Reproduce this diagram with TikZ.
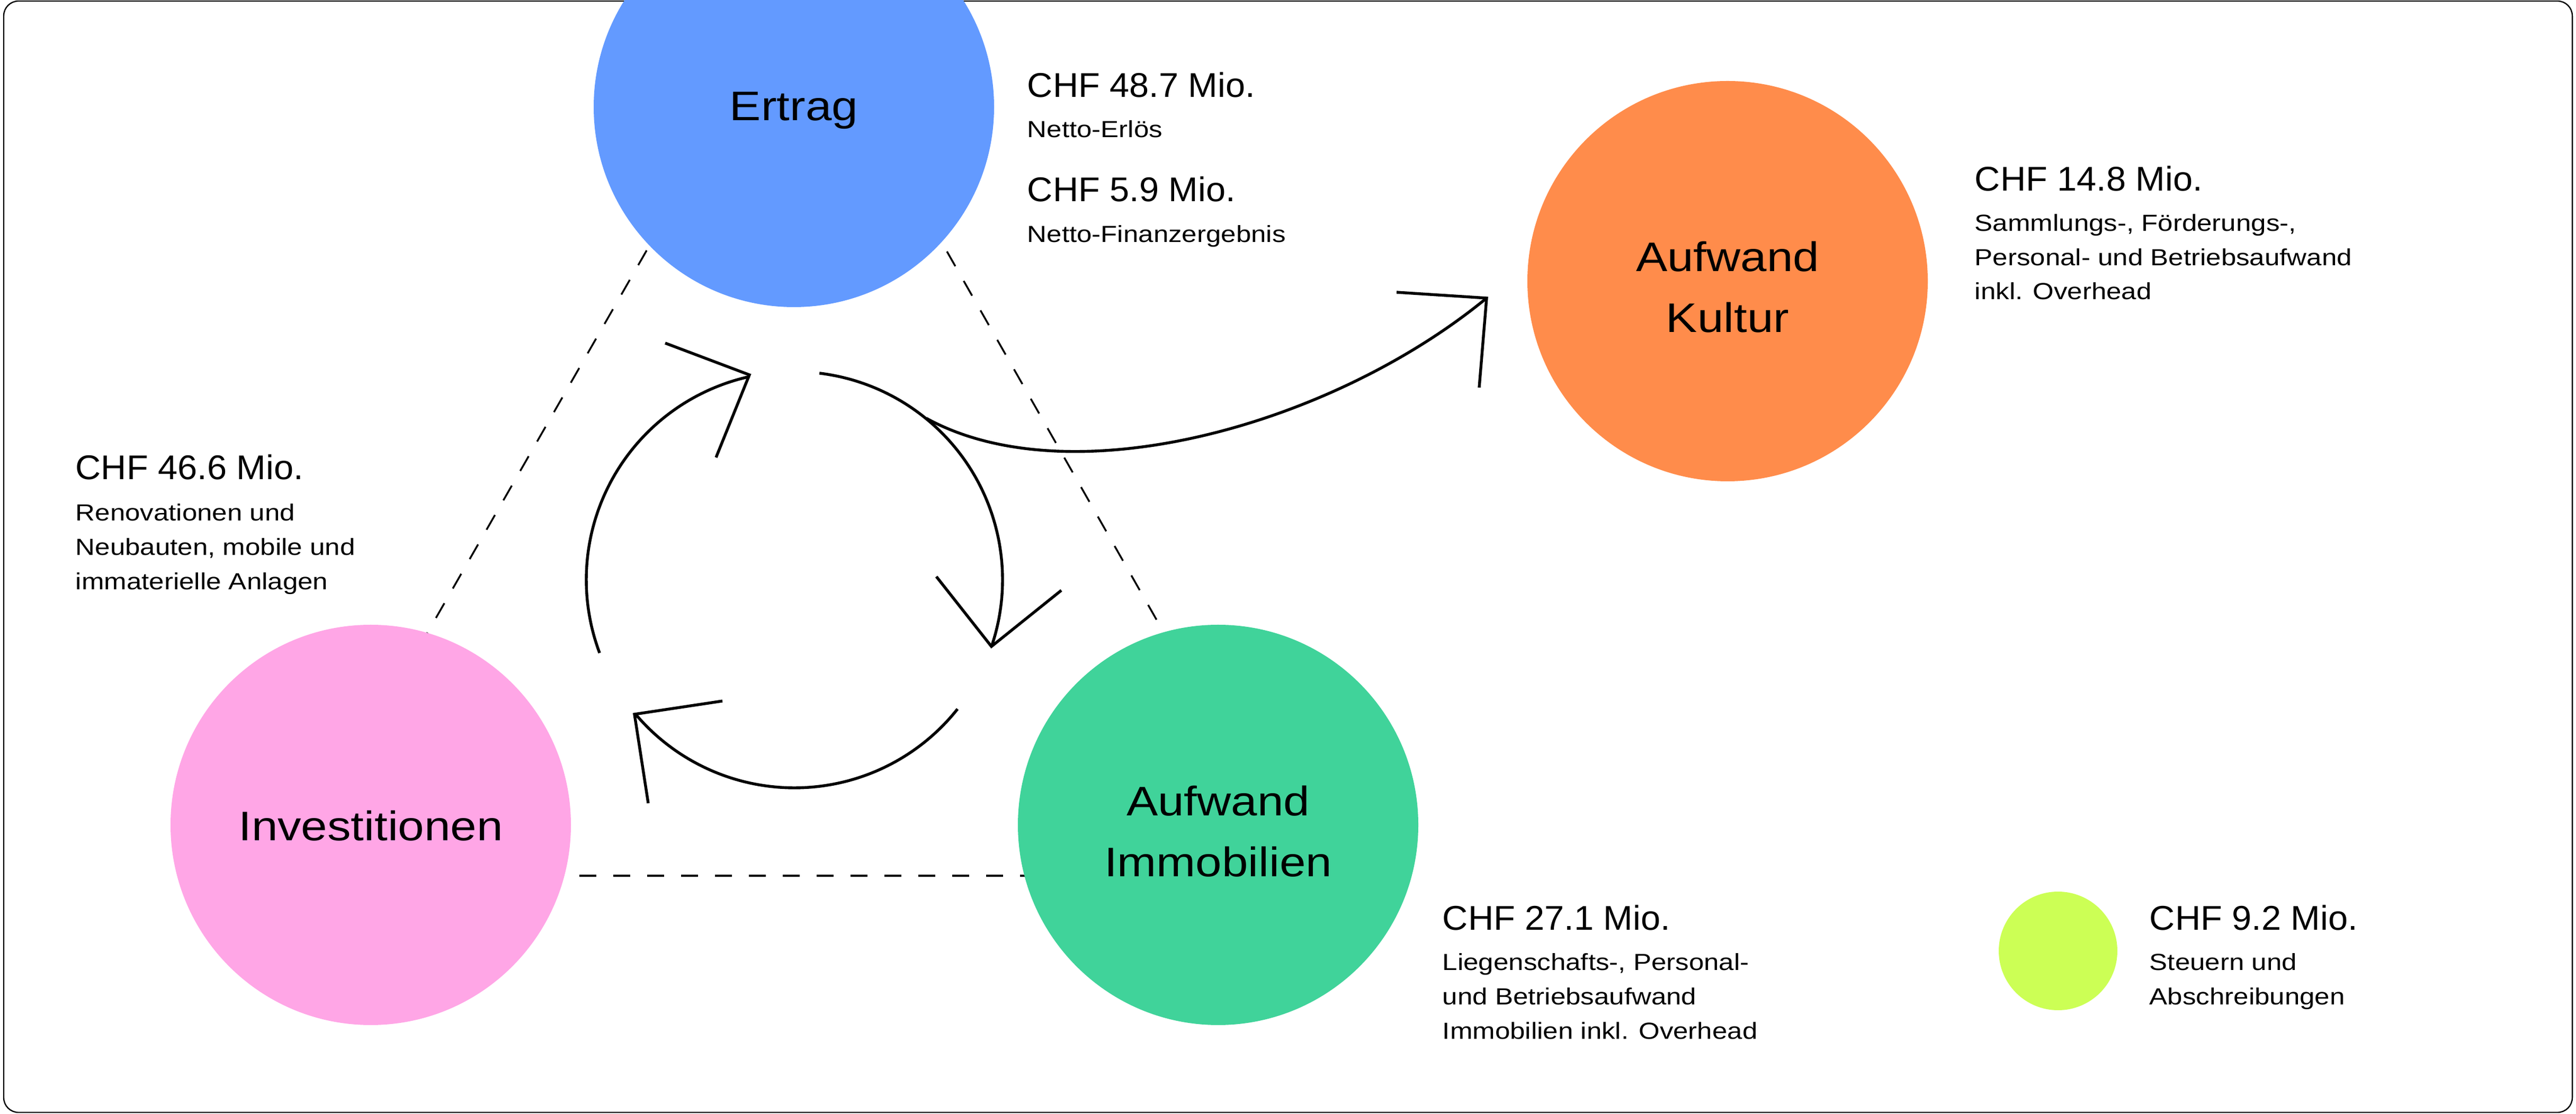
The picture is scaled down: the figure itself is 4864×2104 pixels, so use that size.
\documentclass[tikz,border=0pt]{standalone}
\usepackage{fontspec}
\setmainfont{Liberation Sans}
\newfontfamily\lblfont[FakeStretch=1.14]{Liberation Sans}
\newfontfamily\hdfont[FakeStretch=1.03]{Liberation Sans}
\newfontfamily\bdfont[FakeStretch=1.16]{Liberation Sans}
\definecolor{cBlue}{HTML}{639AFF}
\definecolor{cOrange}{HTML}{FF8C4B}
\definecolor{cGreen}{HTML}{40D39A}
\definecolor{cPink}{HTML}{FFA6E6}
\definecolor{cLime}{HTML}{CCFF55}
\begin{document}
\begin{tikzpicture}[x=0.25pt,y=-0.25pt,
  bubble/.style={circle, inner sep=0pt, draw=none},
  lbl/.style={anchor=base, inner sep=0pt, font=\lblfont\fontsize{19.5pt}{23pt}\selectfont},
  hd/.style={anchor=base west, inner sep=0pt, font=\hdfont\fontsize{16.2pt}{19pt}\selectfont},
  bd/.style={anchor=base west, inner sep=0pt, font=\bdfont\fontsize{11pt}{14pt}\selectfont},
  flow/.style={line width=1.35pt, line cap=butt},
  tiphead/.style={line width=1.35pt, line join=miter},
  link/.style={line width=0.85pt, dash pattern=on 8pt off 8pt}]
\useasboundingbox (0,0) rectangle (4864,2104);
\clip (0,0) rectangle (4864,2104);
\draw[line width=0.6pt, rounded corners=7pt] (7,2) rectangle (4857,2101);

% dashed triangle
\coordinate (d1a) at (1221,473); \coordinate (d1b) at (806,1197);
\coordinate (d2a) at (1788,475); \coordinate (d2b) at (2200,1199);
\coordinate (d3a) at (1094,1654); \coordinate (d3b) at (1960,1654);
\draw[link] (d1a) -- (d1b);
\draw[link] (d2a) -- (d2b);
\draw[link] (d3a) -- (d3b);

% circles
\node[bubble, fill=cBlue, minimum size=189pt] (ertrag) at (1499,202) {};
\node[bubble, fill=cOrange, minimum size=189pt] (kultur) at (3262,531) {};
\node[bubble, fill=cGreen, minimum size=189pt] (immo) at (2300,1558) {};
\node[bubble, fill=cPink, minimum size=189pt] (invest) at (700,1558) {};
\node[bubble, fill=cLime, minimum size=56pt] (steuern) at (3886,1796) {};

% circle labels
\node[lbl] (lErtrag) at (1499,228) {Ertrag};
\node[lbl] (lKultA) at (3262,513) {Aufwand};
\node[lbl] (lKultB) at (3262,628) {Kultur};
\node[lbl] (lImmoA) at (2300,1541) {Aufwand};
\node[lbl] (lImmoB) at (2300,1656) {Immobilien};
\node[lbl] (lInv) at (700,1588) {Investitionen};

% text blocks
\node[hd] (tE1) at (1939,184) {CHF 48.7 Mio.};
\node[bd] (tE2) at (1939,260) {Netto-Erlös};
\node[hd] (tE3) at (1939,381) {CHF 5.9 Mio.};
\node[bd] (tE4) at (1939,458) {Netto-Finanzergebnis};

\node[hd] (tK1) at (3728,361) {CHF 14.8 Mio.};
\node[bd] (tK2) at (3728,437) {Sammlungs-, Förderungs-,};
\node[bd] (tK3) at (3728,502) {Personal- und Betriebsaufwand};
\node[bd] (tK4) at (3728,566) {inkl. Overhead};

\node[hd] (tI1) at (142,906) {CHF 46.6 Mio.};
\node[bd] (tI2) at (142,984) {Renovationen und};
\node[bd] (tI3) at (142,1049) {Neubauten, mobile und};
\node[bd] (tI4) at (142,1114) {immaterielle Anlagen};

\node[hd] (tM1) at (2723,1757) {CHF 27.1 Mio.};
\node[bd] (tM2) at (2723,1833) {Liegenschafts-, Personal-};
\node[bd] (tM3) at (2723,1898) {und Betriebsaufwand};
\node[bd] (tM4) at (2723,1962) {Immobilien inkl. Overhead};

\node[hd] (tS1) at (4058,1757) {CHF 9.2 Mio.};
\node[bd] (tS2) at (4058,1833) {Steuern und};
\node[bd] (tS3) at (4058,1898) {Abschreibungen};

% cycle arrows
\coordinate (tipA) at (1415,708);
\coordinate (tipB) at (1872,1221);
\coordinate (tipC) at (1198,1349);
\coordinate (tipK) at (2807,563);
\draw[flow] plot[domain=159.4:257.6, samples=90] ({1500+393*cos(\x)},{1095+393*sin(\x)});
\draw[flow] plot[domain=276.9:378.7, samples=90] ({1500+393*cos(\x)},{1095+393*sin(\x)});
\draw[flow] plot[domain=38.4:139.9, samples=90] ({1500+393*cos(\x)},{1095+393*sin(\x)});
\draw[tiphead] (1256,648) -- (tipA) -- (1352,864);
\draw[tiphead] (1768,1089) -- (tipB) -- (2004,1115);
\draw[tiphead] (1364,1324) -- (tipC) -- (1224,1517);

% branch to Kultur
\coordinate (branch) at (1749,790);
\draw[flow] (branch) .. controls (2022,940) and (2514,804) .. (tipK);
\draw[tiphead] (2637,552) -- (tipK) -- (2793,732);
\end{tikzpicture}
\end{document}
